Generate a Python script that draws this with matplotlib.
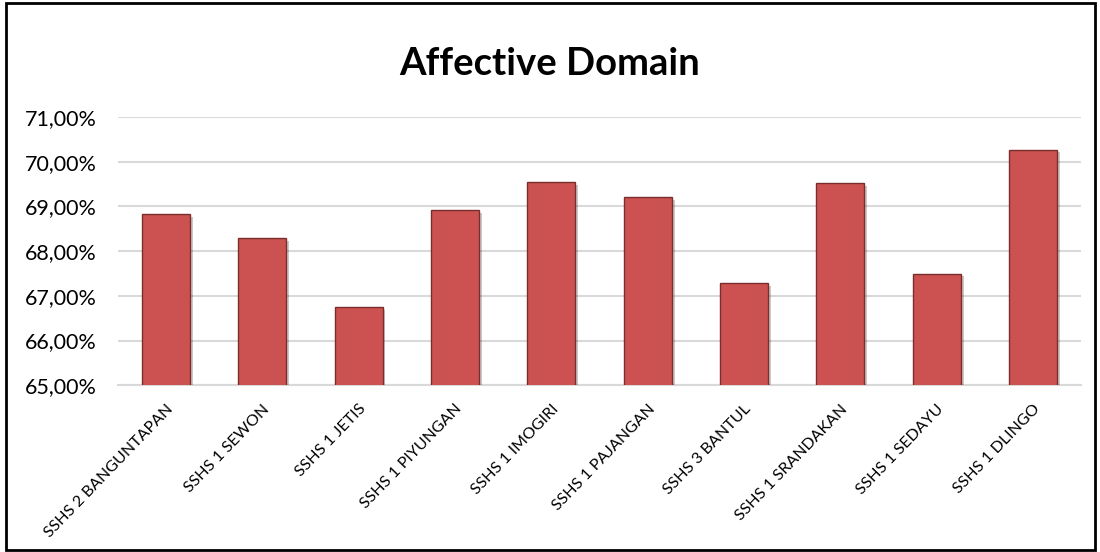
import numpy as np
import matplotlib
matplotlib.use("Agg")
import matplotlib.pyplot as plt
from matplotlib.ticker import FuncFormatter, MultipleLocator
from matplotlib.patches import Rectangle
import matplotlib.patheffects as pe

"""data"""

schools = ["SSHS 2 BANGUNTAPAN", "SSHS 1 SEWON", "SSHS 1 JETIS", "SSHS 1 PIYUNGAN",
           "SSHS 1 IMOGIRI", "SSHS 1 PAJANGAN", "SSHS 3 BANTUL", "SSHS 1 SRANDAKAN",
           "SSHS 1 SEDAYU", "SSHS 1 DLINGO"]
scores = [68.83, 68.29, 66.75, 68.91, 69.55, 69.21, 67.29, 69.52, 67.50, 70.27]
y_min, y_max = 65, 71

"""figure"""

plt.rcParams['font.family'] = ['Lato', 'DejaVu Sans']

fig = plt.figure(figsize=(11, 5.52), dpi=100)
ax = fig.add_axes([0.107, 0.302, 0.876, 0.486])

x = np.arange(len(schools))
bars = ax.bar(x, scores, width=0.5, bottom=0, color='#CB5250',
              edgecolor='#7A2E2C', linewidth=1.0, zorder=3)
for b in bars:
    b.set_path_effects([pe.SimplePatchShadow(offset=(2, -2), alpha=0.25), pe.Normal()])

ax.set_ylim(y_min, y_max)
ax.set_xlim(-0.5, len(schools) - 0.5)
ax.yaxis.set_major_locator(MultipleLocator(1))
ax.yaxis.set_major_formatter(FuncFormatter(lambda v, p: f"{v:.2f}".replace('.', ',') + '%'))
ax.grid(axis='y', color='#D9D9D9', linewidth=1.5, zorder=0)
ax.set_axisbelow(True)
for s in ['top', 'right', 'left']:
    ax.spines[s].set_visible(False)
ax.spines['bottom'].set_color('#D9D9D9')
ax.spines['bottom'].set_linewidth(1.5)
ax.tick_params(axis='both', length=0)
ax.tick_params(axis='y', labelsize=15.5, pad=15)
ax.set_xticks(x)
ax.set_xticklabels(schools, rotation=46, ha='right', rotation_mode='anchor', fontsize=11.5)
ax.tick_params(axis='x', pad=12)

fig.suptitle("Affective Domain", fontsize=27.5, fontweight='bold', y=0.915)

# chart border
fig.patches.append(Rectangle((0.005, 0.004), 0.99, 0.99, transform=fig.transFigure,
                             fill=False, edgecolor='black', linewidth=2))

fig.savefig("out.png", dpi=100)
